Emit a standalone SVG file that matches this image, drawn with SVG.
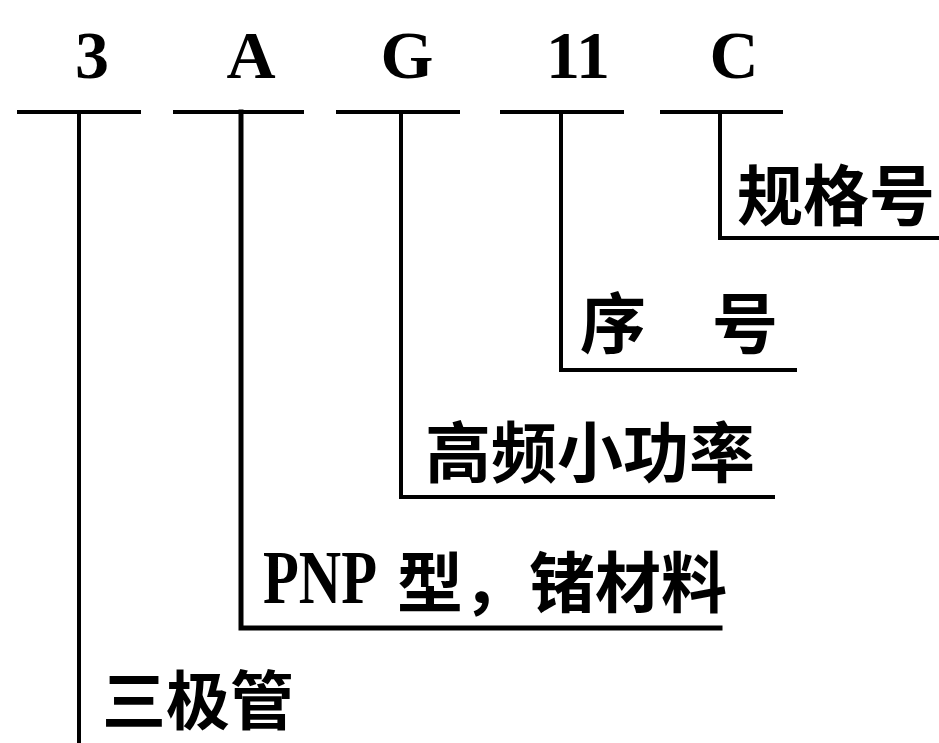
<svg xmlns="http://www.w3.org/2000/svg" width="939" height="743" viewBox="0 0 939 743">
<style>
.code{font-family:"Liberation Serif","Times New Roman",serif;font-weight:700;font-size:68px;fill:#000;text-anchor:middle}
.lat{font-family:"Liberation Serif","Times New Roman",serif;font-size:76px;fill:#000}
.cjk{font-family:"Noto Sans CJK SC","Noto Sans CJK TC",sans-serif;font-weight:700;fill:#000}
.ul{stroke:#000;stroke-width:4;fill:none}
.br{stroke:#000;stroke-width:4;fill:none;stroke-linejoin:miter;stroke-linecap:square}
</style>
<rect width="939" height="743" fill="#fff"/>
<g id="code-3"><text class="code" x="92" y="78">3</text><line class="ul" x1="17" y1="112" x2="141" y2="112"/></g>
<g id="code-A"><text class="code" x="251" y="78">A</text><line class="ul" x1="173" y1="112" x2="304" y2="112"/></g>
<g id="code-G"><text class="code" x="407" y="78">G</text><line class="ul" x1="336" y1="112" x2="460" y2="112"/></g>
<g id="code-11"><text class="code" x="578" y="78">11</text><line class="ul" x1="500" y1="112" x2="624" y2="112"/></g>
<g id="code-C"><text class="code" x="734" y="78">C</text><line class="ul" x1="660" y1="112" x2="783" y2="112"/></g>
<g id="connectors">
<polyline class="br" points="79,112 79,745"/>
<polyline class="br" points="241,112 241,628 720,628" style="stroke-width:5"/>
<polyline class="br" points="401,112 401,497 773,497"/>
<polyline class="br" points="561,112 561,370 795,370"/>
<polyline class="br" points="720,112 720,238 941,238"/>
</g>
<g id="desc-spec"><text class="cjk" x="737" y="220" font-size="66">规格号</text></g>
<g id="desc-seq"><text class="cjk" x="580" y="348" font-size="66">序　号</text></g>
<g id="desc-hf"><text class="cjk" x="425" y="477" font-size="66">高频小功率</text></g>
<g id="desc-pnp"><text class="lat" x="263" y="603" textLength="114" lengthAdjust="spacingAndGlyphs" font-weight="700">PNP</text><text class="cjk" x="397" y="607" font-size="66">型，锗材料</text></g>
<g id="desc-tri"><text class="cjk" x="102" y="724" font-size="64">三极管</text></g>
</svg>
